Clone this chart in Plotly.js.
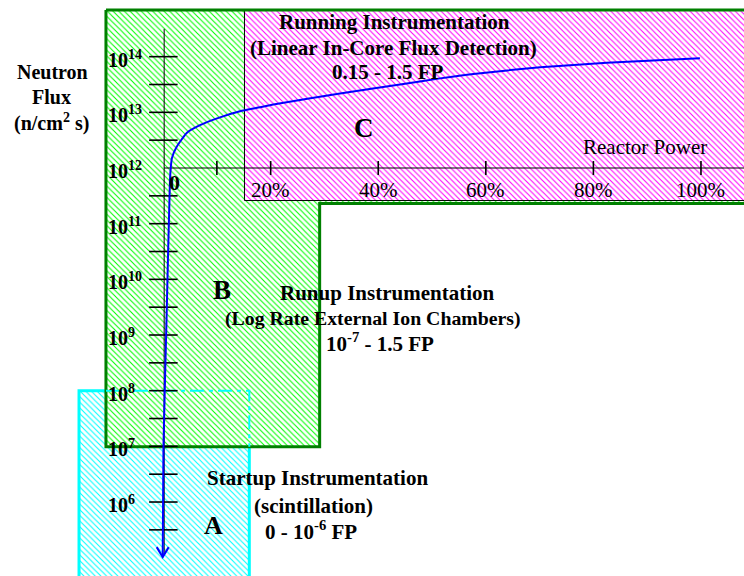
<!DOCTYPE html>
<html><head><meta charset="utf-8">
<script src="https://cdn.plot.ly/plotly-3.0.1.min.js"></script>
<style>html,body{margin:0;padding:0;background:#fff}</style>
</head><body><div id="chart" style="width:744px;height:576px"></div>
<script>
// ---- data ----
// flux curve: x = reactor power (%), y = log10(neutron flux)
const curvePower   = [-0.07, 0.07, 0.67, 1.28, 1.47, 1.65, 2.53, 4.39, 6.86, 10.58, 14.3, 18.0, 20.5, 32.9, 45.3, 51.5, 57.7, 70.1, 82.5, 99.8];
const curveLogFlux = [5.01, 6.99, 9.40, 11.78, 12.05, 12.18, 12.38, 12.63, 12.77, 12.91, 13.02, 13.09, 13.14, 13.34, 13.52, 13.61, 13.69, 13.81, 13.89, 13.97];
// power axis ticks
const powerTicks      = [10, 20, 40, 60, 80, 100];
const powerTickLabels = ['20%', '40%', '60%', '80%', '100%'];
const powerLabelAt    = [20, 40, 60, 80, 100];
// flux axis ticks (log10 units)
const fluxTicks = [5.5, 6, 6.5, 7, 7.5, 8, 8.5, 9, 9.5, 10, 10.5, 11, 11.5, 12.5, 13, 13.5, 14];
const fluxLabelExp = [14, 13, 12, 11, 10, 9, 8, 7, 6];
// instrumentation ranges (power %, log10 flux)
const rangeA = {p0: -15.63, p1: 16.03, f0: 4.4, f1: 8.0};
const rangeB = {p0: -10.62, p1: 29.11, pFar: 112, f0: 6.994, fMid: 11.362, f1: 14.838};
const rangeC = {p0: 15.13, p1: 112, f0: 11.416, f1: 14.838};

// ---- layout helpers ----
const W = 744, H = 576;
const PX = px => px / W, PY = py => 1 - py / H;
const serif = 'Liberation Serif, Times New Roman, serif';

const traces = [];
const skip = {hoverinfo: 'skip', showlegend: false, mode: 'lines'};
const hatch = c => ({shape: '\\', fgcolor: c, bgcolor: 'white', size: 4, solidity: 0.27});

// A (cyan)
traces.push(Object.assign({}, skip, {
  x: [rangeA.p0, rangeA.p1, rangeA.p1, rangeA.p0, rangeA.p0],
  y: [rangeA.f0, rangeA.f0, rangeA.f1, rangeA.f1, rangeA.f0],
  fill: 'toself', fillcolor: 'white', fillpattern: hatch('#00ffff'),
  line: {color: '#00ffff', width: 3}
}));
// B (green L) fill
const bx = [rangeB.p0, rangeB.pFar, rangeB.pFar, rangeB.p1, rangeB.p1, rangeB.p0, rangeB.p0];
const by = [rangeB.f1, rangeB.f1, rangeB.fMid, rangeB.fMid, rangeB.f0, rangeB.f0, rangeB.f1];
traces.push(Object.assign({}, skip, {
  x: bx, y: by, fill: 'toself', fillcolor: 'white', fillpattern: hatch('#00ff00'),
  line: {width: 0, color: 'rgba(0,0,0,0)'}
}));
// C (magenta)
traces.push(Object.assign({}, skip, {
  x: [rangeC.p0, rangeC.p1, rangeC.p1, rangeC.p0, rangeC.p0],
  y: [rangeC.f1, rangeC.f1, rangeC.f0, rangeC.f0, rangeC.f1],
  fill: 'toself', fillcolor: 'white', fillpattern: hatch('#ff00ff'),
  line: {width: 0, color: 'rgba(0,0,0,0)'}
}));
traces.push(Object.assign({}, skip, {
  x: [rangeC.p0, rangeC.p0, rangeC.p1], y: [rangeC.f1, rangeC.f0, rangeC.f0],
  line: {color: '#000', width: 1}
}));
// B outline
traces.push(Object.assign({}, skip, {x: bx, y: by, line: {color: '#008000', width: 3}}));
// A dashed edge inside B
traces.push(Object.assign({}, skip, {
  x: [rangeB.p0, rangeA.p1, rangeA.p1], y: [rangeA.f1, rangeA.f1, rangeB.f0],
  line: {color: '#00ffff', width: 2, dash: '14px,5px,4px,5px'}
}));
// axes lines
traces.push(Object.assign({}, skip, {x: [0.2, 0.2], y: [14.5, 5.05], line: {color: '#000', width: 1}}));
traces.push(Object.assign({}, skip, {x: [0.2, 112], y: [12, 12], line: {color: '#000', width: 1}}));
// ticks
const tx = [], ty = [];
powerTicks.forEach(p => { tx.push(p, p, null); ty.push(12.125, 11.875, null); });
fluxTicks.forEach(f => { tx.push(-2.6, 2.7, null); ty.push(f, f, null); });
traces.push(Object.assign({}, skip, {x: tx, y: ty, line: {color: '#000', width: 1.6}}));
// flux curve
traces.push(Object.assign({}, skip, {
  x: curvePower, y: curveLogFlux, line: {color: '#0000ff', width: 2, shape: 'spline', smoothing: 0.5}
}));
// arrow head at the curve's lower end
const tipX = curvePower[0], tipY = curveLogFlux[0];
const armDX = 6 / 5.379, armDY = 10 / 55.67;
traces.push(Object.assign({}, skip, {
  x: [tipX - armDX, tipX, tipX + armDX], y: [tipY + armDY, tipY, tipY + armDY],
  line: {color: '#0000ff', width: 2}
}));

// ---- annotations ----
const ann = [];
function T(text, px, py, size, bold, opts) {
  ann.push(Object.assign({
    text: text,
    xref: 'paper', yref: 'paper', x: PX(px), y: PY(py),
    xanchor: 'center', yanchor: 'middle', showarrow: false,
    font: {family: serif, size: size, color: '#000', weight: bold ? 'bold' : 'normal'}
  }, opts || {}));
}
T('Neutron', 52.5, 72, 20, true);
T('Flux', 52, 97, 20, true);
T('(n/cm<sup>2</sup> s)', 52, 123, 20, true);
fluxLabelExp.forEach(e => {
  ann.push({text: '10<sup>' + e + '</sup>', xref: 'x', yref: 'y', x: -10.6, y: e,
    xanchor: 'left', yanchor: 'middle', showarrow: false, yshift: -2,
    font: {family: serif, size: 20, color: '#000', weight: 'bold'}});
});
T('0', 174, 183, 22, true);
powerTickLabels.forEach((t, i) => {
  ann.push({text: t, xref: 'x', yref: 'paper', x: powerLabelAt[i], y: PY(190),
    xanchor: 'center', yanchor: 'middle', showarrow: false,
    font: {family: serif, size: 21, color: '#000'}});
});
T('Reactor Power', 644.5, 147, 21, false);
T('C', 364, 128, 27, true);
T('B', 222, 290, 27, true);
T('A', 213, 525, 26, true);
T('Running Instrumentation', 394.5, 22, 21, true);
T('(Linear In-Core Flux Detection)', 393.5, 48, 21, true);
T('0.15 - 1.5 FP', 387.5, 72, 21, true);
T('Runup Instrumentation', 387, 293, 21, true);
T('(Log Rate External Ion Chambers)', 373, 318, 19.8, true);
T('10<sup>-7</sup> - 1.5 FP', 380, 342, 21, true);
T('Startup Instrumentation', 317, 478, 21, true);
T('(scintillation)', 313.5, 506, 21, true);
T('0 - 10<sup>-6</sup> FP', 311, 530, 21, true);

const layout = {
  width: W, height: H, autosize: false,
  margin: {l: 0, r: 0, t: 0, b: 0, pad: 0},
  paper_bgcolor: '#fff', plot_bgcolor: '#fff',
  showlegend: false,
  xaxis: {range: [-30.32, 108.0], visible: false, fixedrange: true},
  yaxis: {range: [4.671, 15.018], visible: false, fixedrange: true},
  annotations: ann
};
Plotly.newPlot('chart', traces, layout, {staticPlot: true, displayModeBar: false});
</script></body></html>
